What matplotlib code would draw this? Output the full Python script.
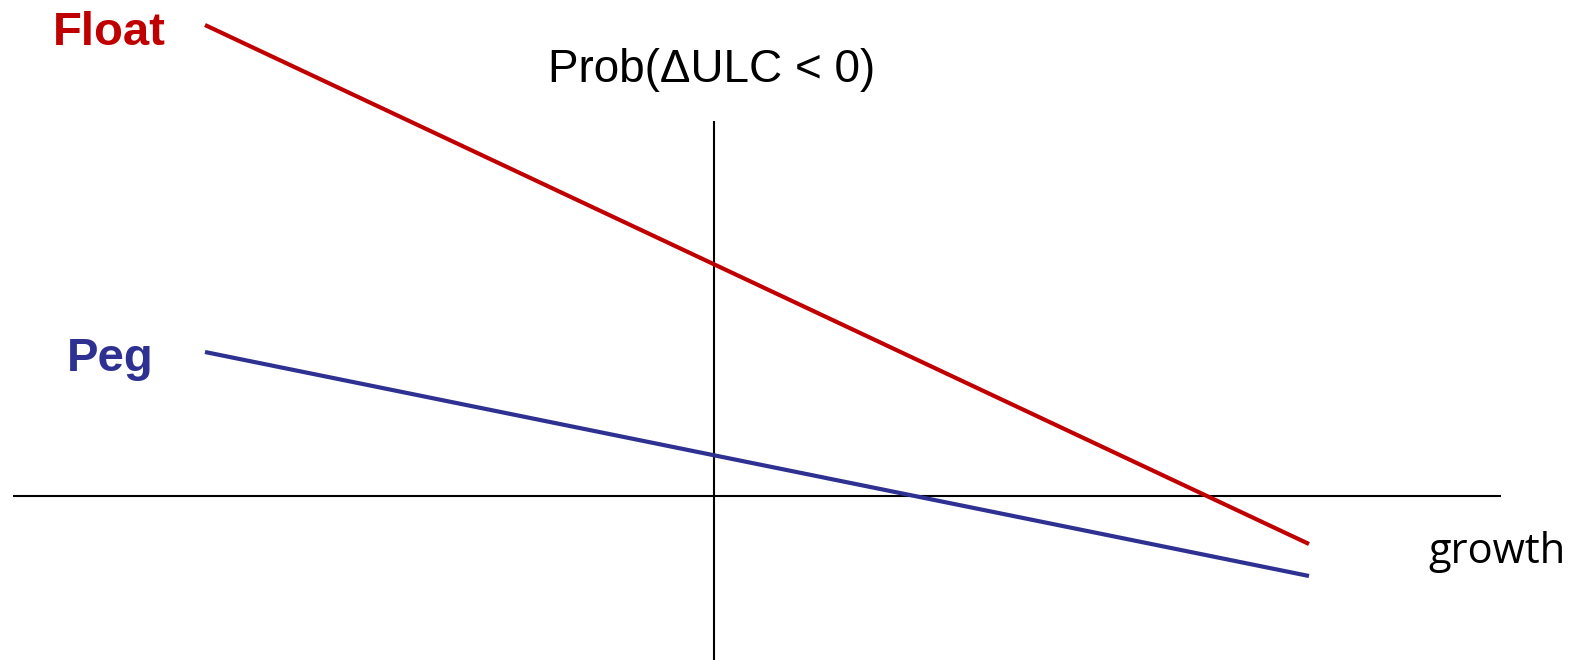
import matplotlib
matplotlib.use('Agg')
import matplotlib.pyplot as plt

# schematic: probability of a fall in unit labour costs vs growth
growth = [-5.09, 5.95]
float_prob = [4.71, -0.48]
peg_prob = [1.44, -0.80]

regimes = ['Float', 'Peg']
colors = ['#C00000', '#2E3192']

fig = plt.figure(figsize=(15.83, 6.60), dpi=100)
ax = fig.add_axes([0, 0, 1, 1])
ax.set_xlim(-7.14, 8.69)
ax.set_ylim(-1.64, 4.96)
ax.axis('off')

# axes cross at the origin
ax.plot([-7.01, 7.87], [0, 0], color='black', lw=1.5, solid_capstyle='butt')
ax.plot([0, 0], [3.75, -1.64], color='black', lw=1.5, solid_capstyle='butt')

ax.plot(growth, float_prob, color=colors[0], lw=3.0, solid_capstyle='butt')
ax.plot(growth, peg_prob, color=colors[1], lw=3.0, solid_capstyle='butt')

ax.text(-6.61, 4.51, regimes[0], color=colors[0], fontsize=34, fontweight='bold',
        family='Liberation Sans', va='baseline', ha='left')
ax.text(-6.47, 1.25, regimes[1], color=colors[1], fontsize=34, fontweight='bold',
        family='Liberation Sans', va='baseline', ha='left')

ax.text(-0.02, 4.14, 'Prob(\u0394ULC < 0)', color='black', fontsize=33,
        family='Liberation Sans', va='baseline', ha='center')
ax.text(7.14, -0.67, 'growth', color='black', fontsize=30,
        family='Open Sans', va='baseline', ha='left')

plt.savefig('out.png', dpi=100)
